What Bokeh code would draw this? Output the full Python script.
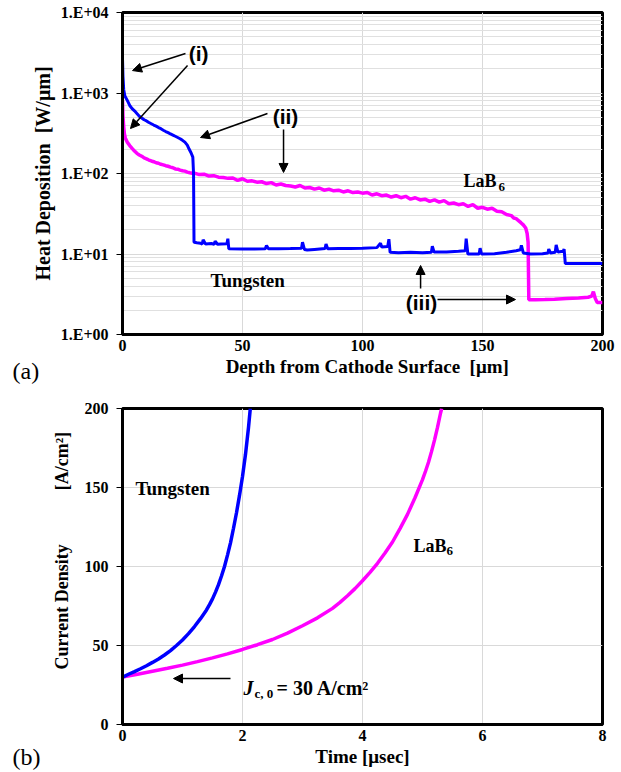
import math
from bokeh.plotting import figure
from bokeh.models import Range1d, FixedTicker, Label, Arrow, NormalHead, Title
from bokeh.layouts import column
from bokeh.embed import file_html
from bokeh.resources import INLINE

# ---------------- data: panel (a) ----------------
w_depth = [0, 0.2, 0.5, 1, 2, 3, 4, 5, 6, 7, 8, 9, 10, 11, 12, 13, 14, 15, 16, 17, 18, 19, 20,
           21, 22, 23, 24, 25, 26, 27, 27.8, 28.6, 29.3, 29.6, 29.8,
           31, 32.5, 33.2, 33.6, 34.6, 37, 38.2, 38.6, 39.6, 41, 43.5, 43.9, 44.3, 50, 55,
           59.5, 60, 60.8, 65, 70, 74.6, 75, 75.8, 77, 80, 84.4, 84.8, 85.5, 90, 95, 100,
           106, 107.5, 108, 110.5, 111, 111.5, 115, 120, 125, 128.7, 129.1, 129.8, 135, 140,
           142.8, 143.2, 143.9, 148.6, 149, 149.6, 155, 160, 164, 165.8, 166.2, 167, 170, 175,
           177.3, 177.6, 178.3, 180.3, 180.7, 181.4, 183.6, 184, 184.5, 200]
w_heat = [2700, 1600, 1100, 920, 810, 700, 640, 600, 555, 515, 490, 465, 450, 430, 415, 400, 388,
          372, 360, 345, 332, 322, 310, 300, 290, 280, 270, 258, 245, 225, 200, 180, 160, 100, 14,
          13.8, 13.6, 13.3, 15.0, 13.3, 13.5, 13.2, 14.4, 13.2, 13.3, 13.4, 15.5, 11.6, 11.5, 11.5,
          11.6, 12.8, 11.6, 11.6, 11.7, 11.8, 14.0, 11.4, 11.2, 11.4, 11.7, 13.3, 11.6, 11.7, 11.7, 11.8,
          12.0, 13.6, 12.2, 12.4, 15.3, 10.5, 10.4, 10.5, 10.4, 10.5, 12.5, 10.6, 10.6, 10.8,
          11.0, 15.5, 10.0, 10.0, 11.8, 10.0, 10.1, 10.5, 11.0, 11.3, 12.8, 10.3, 10.0, 10.1,
          10.3, 11.5, 10.3, 10.5, 13.0, 10.6, 10.8, 11.5, 7.6, 7.6]

l_depth = [0, 0.2, 0.5, 0.8, 1.2, 2, 3, 4, 5, 6, 7, 8, 9, 10, 11, 12, 13, 14, 15, 16, 17, 18, 19,
           20, 21, 22, 23, 24, 25, 26, 27, 28, 29,
           30, 32, 34, 36, 38, 40, 42, 44, 46, 48, 50, 52, 54, 56, 58, 60, 62, 64, 66, 68, 70,
           72, 74, 76, 78, 80, 82, 84, 86, 88, 90, 92, 94, 96, 98, 100, 102, 104, 106, 108, 110,
           112, 114, 116, 118, 120, 122, 124, 126, 128, 130, 132, 134, 136, 138, 140, 142, 144,
           146, 148, 150, 152, 154, 156, 158, 160, 162, 163, 164, 165, 166, 167, 168, 168.6, 169,
           169.3, 172, 176, 180, 185, 190, 194, 195.5, 196.2, 197, 197.8, 200]
l_heat = [800, 520, 380, 310, 275, 245, 222, 205, 190, 178, 170, 164, 156, 152, 147, 143, 140,
          136, 134, 130, 128, 125, 123, 120, 118, 114, 113, 110, 108, 107, 104, 102, 101,
          101, 97, 98, 93, 94, 90, 89, 87, 88, 82, 86, 80, 81, 78, 79, 75, 77, 72, 74, 71, 70,
          68, 71, 66, 67, 64, 66, 62, 64, 61, 62, 59, 61, 58, 59, 57, 58, 54, 56, 53, 54,
          51, 53, 50, 52, 48, 50, 47, 48, 45, 47, 44, 46, 42, 43, 41, 42, 39,
          41, 37, 38, 36, 37, 34, 33.5, 31, 30, 28, 27.5, 26, 24.5, 23, 21, 18, 14,
          2.7, 2.7, 2.72, 2.75, 2.8, 2.85, 2.9, 3.0, 3.4, 2.8, 2.5, 2.5]

a_xticks = [0, 50, 100, 150, 200]
a_yticks = [1, 10, 100, 1000, 10000]
a_ylabels = ["1.E+00", "1.E+01", "1.E+02", "1.E+03", "1.E+04"]

# ---------------- data: panel (b) ----------------
w_time = [0, 0.1, 0.2, 0.3, 0.4, 0.5, 0.6, 0.7, 0.8, 0.9, 1.0, 1.1, 1.2, 1.3, 1.4, 1.45, 1.5,
          1.55, 1.6, 1.65, 1.7, 1.75, 1.8, 1.85, 1.9, 1.95, 2.0, 2.05, 2.1, 2.13]
w_j = [30, 31.8, 33.5, 35.3, 37.2, 39.3, 41.5, 44, 46.8, 50, 53.5, 57.5, 62, 67, 72.5, 75.9, 79.5,
       83.8, 88.5, 94, 100, 107.2, 115, 124.2, 134, 145, 157, 171, 188, 200]
l_time = [0, 0.25, 0.5, 0.75, 1.0, 1.25, 1.5, 1.75, 2.0, 2.25, 2.5, 2.75, 3.0, 3.25, 3.5,
          3.625, 3.75, 3.875, 4.0, 4.125, 4.25, 4.375, 4.5, 4.625, 4.75, 4.875, 5.0, 5.05,
          5.1, 5.15, 5.2, 5.25, 5.3, 5.32]
l_j = [30, 31.8, 33.7, 35.6, 37.6, 39.8, 42.2, 44.7, 47.5, 50.5, 53.8, 57.8, 62.5, 67.5, 73.5,
       77.3, 81.5, 86, 91, 96.3, 102, 108.5, 115.5, 124, 133, 143.5, 155, 160.3,
       166, 172.7, 180, 188, 197, 200]

b_xticks = [0, 2, 4, 6, 8]
b_yticks = [0, 50, 100, 150, 200]

BLUE = "#0000FF"
MAG = "#FF00FF"
SERIF = "Liberation Serif"
SANS = "Liberation Sans"
NB = "\u00a0"


def style(p, xlabel, ylabel, xsize, ysize, ystand):
    p.outline_line_color = "black"
    p.outline_line_width = 3
    for ax in p.axis:
        ax.axis_line_color = "black"
        ax.axis_line_width = 3
        ax.major_tick_line_color = "black"
        ax.major_tick_in = 0
        ax.minor_tick_line_color = None
        ax.major_label_text_font = SERIF
        ax.major_label_text_font_style = "bold"
        ax.major_label_text_font_size = "16px"
        ax.major_label_text_color = "black"
        ax.axis_label_text_font = SERIF
        ax.axis_label_text_font_style = "bold"
        ax.axis_label_text_color = "black"
    p.xaxis.major_tick_out = 0
    p.xaxis.major_label_standoff = 5
    p.xaxis.axis_label = xlabel
    p.xaxis.axis_label_text_font_size = xsize
    p.xaxis.axis_label_standoff = 2
    p.yaxis.major_tick_out = 6
    p.yaxis.major_label_standoff = 8
    p.yaxis.axis_label = ylabel
    p.yaxis.axis_label_text_font_size = ysize
    p.yaxis.axis_label_standoff = ystand
    p.xgrid.grid_line_color = "#d9d9d9"
    p.ygrid.grid_line_color = "#d9d9d9"


def lab(p, x, y, text, size, font=SERIF, fstyle="bold", align="left", baseline="alphabetic"):
    p.add_layout(Label(x=x, y=y, text=text, text_font=font, text_font_style=fstyle,
                       text_font_size=size, text_align=align, text_baseline=baseline,
                       text_color="black"))


def arr(p, x0, y0, x1, y1):
    p.add_layout(Arrow(end=NormalHead(size=9, fill_color="black", line_color="black", line_width=1),
                       x_start=x0, y_start=y0, x_end=x1, y_end=y1,
                       line_color="black", line_width=1.5))


def panel_tag(p, text, standoff):
    p.add_layout(Title(text=text, align="left", offset=-110, standoff=standoff,
                       vertical_align="top", text_font=SERIF, text_font_style="normal",
                       text_font_size="24px", text_color="black"), "below")


# ---------------- panel (a) ----------------
p1 = figure(width=621, height=398, x_range=Range1d(0, 200), y_range=Range1d(1, 1e4),
            y_axis_type="log", output_backend="svg", toolbar_location=None,
            min_border_left=122, min_border_right=19, min_border_top=12, min_border_bottom=64)
minor = [m * d for d in [1, 10, 100, 1000] for m in range(2, 10)]
p1.xaxis.ticker = FixedTicker(ticks=a_xticks)
p1.yaxis.ticker = FixedTicker(ticks=a_yticks, minor_ticks=minor)
p1.yaxis.major_label_overrides = {t: s for t, s in zip(a_yticks, a_ylabels)}
style(p1, NB * 2 + "Depth from Cathode Surface" + NB * 2 + "[\u03bcm]",
      "Heat Deposition" + NB * 2 + "[W/\u03bcm]", "19px", "20px", 4)
p1.ygrid.minor_grid_line_color = "#e0e0e0"
panel_tag(p1, "(a)", -44)

p1.line(l_depth, l_heat, line_color=MAG, line_width=3.5)
p1.line(w_depth, w_heat, line_color=BLUE, line_width=3)

lab(p1, 36.7, 4.69, "Tungsten", "19px")
lab(p1, 142.1, 79.6, "LaB", "18px")
lab(p1, 156.7, 68.9, "6", "13px")
lab(p1, 31.7, 3100, "(i)", "21px", font=SANS, align="center", baseline="middle")
lab(p1, 67.9, 511, "(ii)", "21px", font=SANS, align="center", baseline="middle")
lab(p1, 124.6, 2.50, "(iii)", "21px", font=SANS, align="center", baseline="middle")

arr(p1, 26.25, 3100, 4.17, 1900)
arr(p1, 27.1, 2198, 3.33, 362)
arr(p1, 60.4, 556, 32.5, 280)
arr(p1, 67.1, 352, 67.1, 103)
arr(p1, 124.2, 3.73, 124.2, 7.2)
arr(p1, 131.25, 2.72, 163.75, 2.72)

# ---------------- panel (b) ----------------
p2 = figure(width=621, height=374, x_range=Range1d(0, 8), y_range=Range1d(0, 200),
            output_backend="svg", toolbar_location=None,
            min_border_left=122, min_border_right=19, min_border_top=10, min_border_bottom=48)
p2.xaxis.ticker = FixedTicker(ticks=b_xticks)
p2.yaxis.ticker = FixedTicker(ticks=b_yticks)
style(p2, "Time [\u03bcsec]",
      NB * 7 + "Current Density" + NB * 12 + "[A/cm\u00b2]", "19px", "18px", 10)
panel_tag(p2, "(b)", -52)

p2.line(l_time, l_j, line_color=MAG, line_width=3.5)
p2.line(w_time, w_j, line_color=BLUE, line_width=3.5)

lab(p2, 0.217, 149.4, "Tungsten", "19px")
lab(p2, 4.85, 112.7, "LaB", "18px")
lab(p2, 5.40, 109.5, "6", "13px")
lab(p2, 2.017, 22.8, "J", "20px", fstyle="bold italic")
lab(p2, 2.2, 19.6, "c, 0", "13px")
lab(p2, 2.567, 22.8, "= 30 A/cm\u00b2", "20px")
arr(p2, 1.8, 29.1, 0.85, 29.1)

layout = column(p1, p2)
open("out.html", "w").write(file_html(layout, INLINE))
